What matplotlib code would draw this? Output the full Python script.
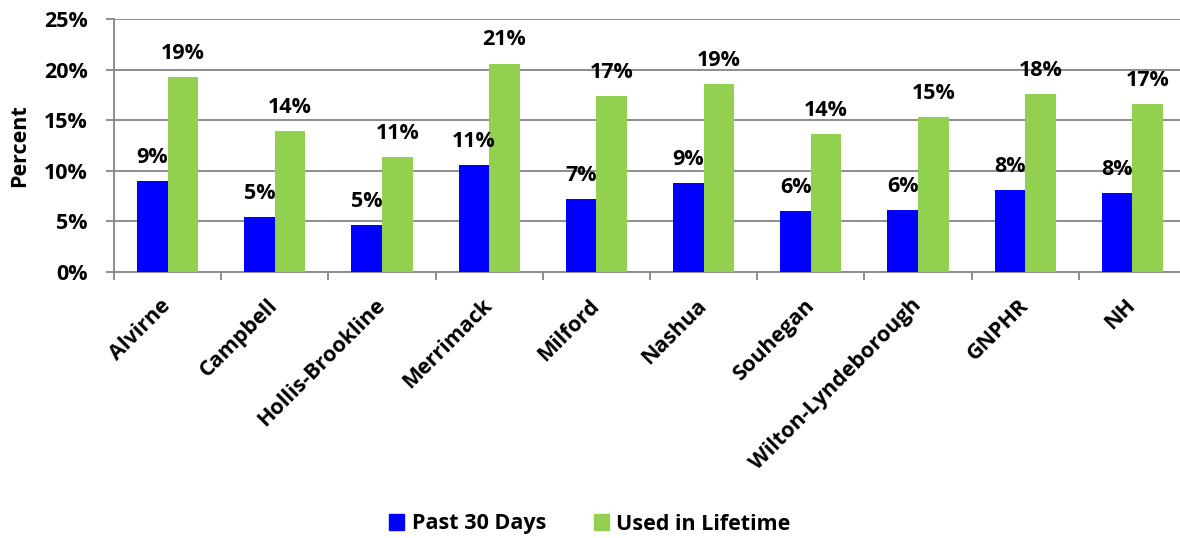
import numpy as np
import matplotlib
matplotlib.use("Agg")
from matplotlib import pyplot as plt
from matplotlib.patches import Patch

plt.rcParams['font.family'] = ['Open Sans', 'DejaVu Sans']
plt.rcParams['font.weight'] = 'bold'

#======================================================
#! Data
schools = ['Alvirne', 'Campbell', 'Hollis-Brookline', 'Merrimack', 'Milford',
           'Nashua', 'Souhegan', 'Wilton-Lyndeborough', 'GNPHR', 'NH']
past30 = [9.0, 5.4, 4.6, 10.6, 7.2, 8.8, 6.0, 6.1, 8.1, 7.8]
lifetime = [19.3, 13.9, 11.4, 20.6, 17.4, 18.6, 13.6, 15.3, 17.6, 16.6]

blue = '#0000FF'
green = '#92D050'
grid = '#8C8C8C'
fs = 15.5

#======================================================
#! Plot
fig = plt.figure(figsize=(11.8, 5.38), dpi=100)
ax = fig.add_axes([114/1180, (538-272)/538, (1186-114)/1180, (272-19)/538])

x = np.arange(len(schools))
w = 0.285
b1 = ax.bar(x - w/2, past30, w, color=blue, zorder=3)
b2 = ax.bar(x + w/2, lifetime, w, color=green, zorder=3)

for bars, vals in ((b1, past30), (b2, lifetime)):
    for r, v in zip(bars, vals):
        ax.annotate('%.0f%%' % v, (r.get_x() + r.get_width()/2, v),
                    xytext=(0, 13), textcoords='offset points',
                    ha='center', va='baseline', fontsize=fs, fontweight='bold')

ax.set_ylim(0, 25)
ax.set_yticks(np.arange(0, 26, 5))
ax.set_yticklabels(['%d%%' % t for t in range(0, 26, 5)])
ax.yaxis.grid(True, color=grid, lw=1.4, zorder=0)
ax.set_xlim(-0.5, len(schools) - 0.5)

ax.set_xticks(x)
ax.set_xticklabels(schools, rotation=45, ha='right', va='center',
                   rotation_mode='anchor')
ax.set_xticks(np.arange(-0.5, len(schools)), minor=True)
ax.tick_params(axis='x', which='major', length=0, pad=22, labelsize=fs)
ax.tick_params(axis='x', which='minor', length=6, width=1.4, color=grid)
ax.tick_params(axis='y', length=6, width=1.4, color=grid, pad=13, labelsize=fs)

for s in ('top', 'right'):
    ax.spines[s].set_visible(False)
for s in ('left', 'bottom'):
    ax.spines[s].set_color(grid)
    ax.spines[s].set_linewidth(1.4)

ax.set_ylabel('Percent', fontsize=fs, fontweight='bold')
ax.yaxis.set_label_coords(-0.078, 0.5)

handles = [Patch(color=blue, label='Past 30 Days'),
           Patch(color=green, label='Used in Lifetime')]
fig.legend(handles=handles, loc='center', bbox_to_anchor=(0.5, 14/538),
           ncol=2, frameon=False, fontsize=fs, handlelength=0.7,
           handleheight=0.7, handletextpad=0.35, columnspacing=2.2)

plt.savefig('out.png', dpi=100)
